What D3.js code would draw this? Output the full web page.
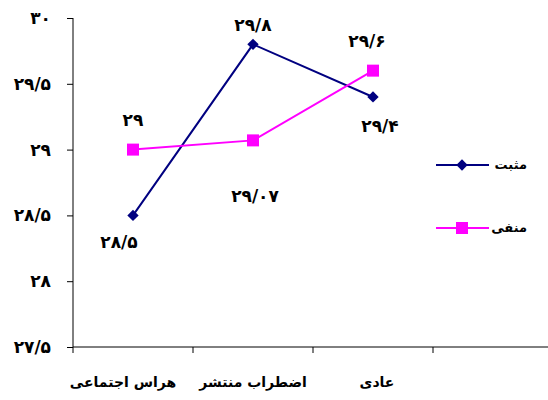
<html>
<script src="https://d3js.org/d3.v7.min.js"></script>
<style>
body{margin:0;background:#fff;}
text{font-family:"DejaVu Sans",sans-serif;font-weight:bold;}
</style>
<div id="chart"></div>
<script>
const categories = ['هراس اجتماعی', 'اضطراب منتشر', 'عادی'];
const positive = [28.5, 29.8, 29.4];
const negative = [29, 29.07, 29.6];
const yTicks = [27.5, 28, 28.5, 29, 29.5, 30];
const seriesNames = ['مثبت', 'منفی'];

const width = 548, height = 400;
const margin = {top:18, left:73, bottom:53, right:0};

const fa = v => String(v).replace('.', '/').replace(/[0-9]/g, d => '۰۱۲۳۴۵۶۷۸۹'[d]);

const svg = d3.select('#chart').append('svg')
  .attr('width', width).attr('height', height);

const x = d3.scaleBand()
  .domain(categories.concat(['']))
  .range([margin.left, margin.left + 480]);

const y = d3.scaleLinear()
  .domain([27.5, 30])
  .range([height - margin.bottom, margin.top]);

const cx = c => x(c) + x.bandwidth() / 2;

// y axis
const yAxis = svg.append('g')
  .attr('transform', `translate(${margin.left},0)`)
  .call(d3.axisLeft(y).tickValues(yTicks).tickSize(6).tickFormat(fa));
yAxis.select('.domain').attr('d', `M-0,${y(30)}V${y(27.5)}`);
yAxis.selectAll('text').attr('x', -22).style('font-size', '17px')
  .style('font-family', '"DejaVu Sans",sans-serif').style('font-weight', 'bold');

// x axis
const xAxisG = svg.append('g')
  .attr('transform', `translate(0,${y(27.5)})`);
xAxisG.append('line').attr('x1', margin.left).attr('x2', width)
  .attr('stroke', '#000');
xAxisG.selectAll('line.tk')
  .data(categories.concat(['']))
  .enter().append('line')
  .attr('class', 'tk')
  .attr('x1', d => x(d)).attr('x2', d => x(d))
  .attr('y1', 0).attr('y2', 6).attr('stroke', '#000');
xAxisG.selectAll('text')
  .data(categories)
  .enter().append('text')
  .attr('x', (d, i) => cx(d) - [10, 0, -4][i])
  .attr('y', 40)
  .attr('text-anchor', 'middle')
  .style('font-size', '14px')
  .text(d => d);

const line = d3.line()
  .x((d, i) => cx(categories[i]))
  .y(d => y(d));

const series = [
  {name: seriesNames[0], values: positive, color: '#000080', size: 64, rot: 45, offs: [27, -19, 29], dx: [-14, 0, 7]},
  {name: seriesNames[1], values: negative, color: '#FF00FF', size: 144, rot: 0, offs: [-30, 56, -30], dx: [0, 2, -6]}
];
const marker = d3.symbol().type(d3.symbolSquare);

series.forEach((s, si) => {
  svg.append('path')
    .attr('d', line(s.values))
    .attr('fill', 'none')
    .attr('stroke', s.color)
    .attr('stroke-width', 2);
  svg.selectAll('.pt' + si)
    .data(s.values)
    .enter().append('path')
    .attr('d', marker.size(s.size)())
    .attr('transform', (d, i) => `translate(${cx(categories[i])},${y(d)}) rotate(${s.rot})`)
    .attr('fill', s.color);
  svg.selectAll('.lb' + si)
    .data(s.values)
    .enter().append('text')
    .attr('x', (d, i) => cx(categories[i]) + s.dx[i])
    .attr('y', (d, i) => y(d) + s.offs[i])
    .attr('dy', '0.35em')
    .attr('text-anchor', 'middle')
    .style('font-size', '17px')
    .text(d => fa(d));

  // legend
  const ly = si ? 228 : 165;
  svg.append('line').attr('x1', 436).attr('x2', 489)
    .attr('y1', ly).attr('y2', ly)
    .attr('stroke', s.color).attr('stroke-width', 2);
  svg.append('path')
    .attr('d', marker.size(s.size)())
    .attr('transform', `translate(462,${ly}) rotate(${s.rot})`)
    .attr('fill', s.color);
  svg.append('text')
    .attr('x', 527).attr('y', ly).attr('dy', '0.3em')
    .attr('text-anchor', 'end')
    .style('font-size', '13px')
    .text(s.name);
});
</script>
</html>
